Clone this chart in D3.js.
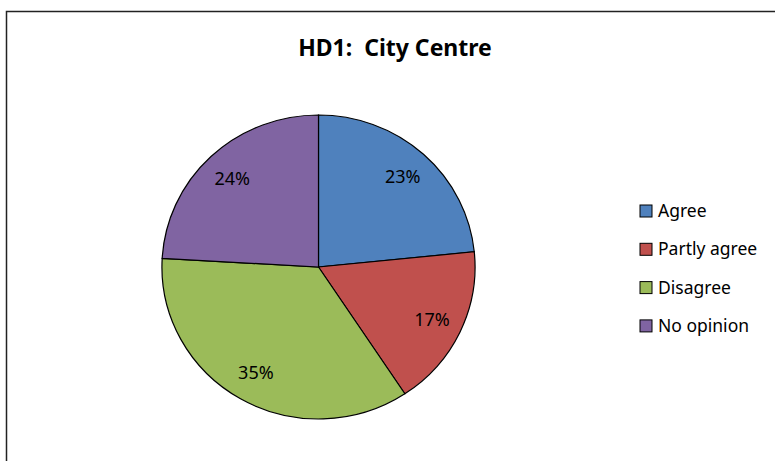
<!DOCTYPE html>
<html>
  <head>
    <title>HD1: City Centre</title>
    <script src="https://d3js.org/d3.v7.min.js"></script>
  </head>
  <style>
    body {
      margin: 0;
      background: #fff;
    }
    text {
      font-family: "Noto Sans", "Open Sans", sans-serif;
      fill: #000;
    }
  </style>
  <body>
    <svg id="chart" style="width:775px;height:461px;display:block;"></svg>

    <script>
      var categories = ["Agree", "Partly agree", "Disagree", "No opinion"];
      var values = [23.4, 17.3, 35.2, 24.1];
      var colors = ["#4f81bd", "#c0504d", "#9bbb59", "#8064a2"];

      var svg = d3.select("#chart");

      // outer frame (right and bottom edges fall off the picture)
      svg.append("rect")
        .attr("x", 6.5)
        .attr("y", 11.5)
        .attr("width", 800)
        .attr("height", 480)
        .attr("fill", "#fff")
        .attr("stroke", "#222")
        .attr("stroke-width", 1.5);

      svg.append("text")
        .attr("x", 395)
        .attr("y", 56)
        .attr("text-anchor", "middle")
        .style("font-size", "23px")
        .style("font-weight", "bold")
        .style("white-space", "pre")
        .text("HD1:  City Centre");

      var radius = 152;
      var pie = d3.pie().sort(null).value(d => d);
      var arcs = pie(values);
      var total = d3.sum(values);

      var arc = d3.arc().innerRadius(0).outerRadius(radius);
      var labelArc = d3.arc().innerRadius(122).outerRadius(122);

      var g = svg.append("g")
        .attr("transform", "translate(318.5,267) scale(1.03,1)");

      g.selectAll("path.slice")
        .data(arcs)
        .enter()
        .append("path")
          .attr("class", "slice")
          .attr("d", arc)
          .attr("fill", (d, i) => colors[i])
          .attr("stroke", "#000")
          .attr("stroke-width", 1.2)
          .attr("vector-effect", "non-scaling-stroke");

      svg.selectAll("text.pct")
        .data(arcs)
        .enter()
        .append("text")
          .attr("class", "pct")
          .attr("x", d => 318.5 + labelArc.centroid(d)[0] * 1.03)
          .attr("y", d => 267 + labelArc.centroid(d)[1])
          .attr("dy", "0.35em")
          .attr("text-anchor", "middle")
          .style("font-size", "18px")
          .text(d => Math.round(d.value / total * 100) + "%");

      var legend = svg.selectAll("g.legend")
        .data(categories)
        .enter()
        .append("g")
          .attr("class", "legend")
          .attr("transform", (d, i) => "translate(640," + (211 + i * 38.3) + ")");

      legend.append("rect")
        .attr("x", 0)
        .attr("y", -6)
        .attr("width", 12)
        .attr("height", 12)
        .attr("fill", (d, i) => colors[i])
        .attr("stroke", "#000")
        .attr("stroke-width", 1);

      legend.append("text")
        .attr("x", 18)
        .attr("y", 0)
        .attr("dy", "0.35em")
        .style("font-size", "17.5px")
        .text(d => d);
    </script>
  </body>
</html>
